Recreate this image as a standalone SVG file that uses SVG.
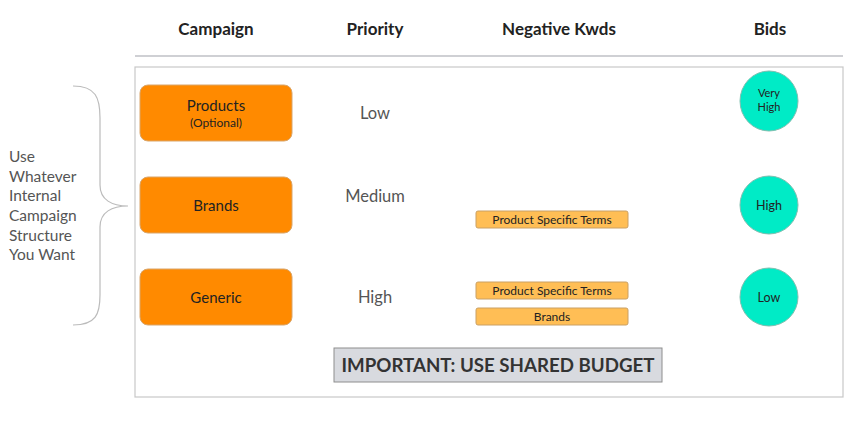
<svg xmlns="http://www.w3.org/2000/svg" width="856" height="423" viewBox="0 0 856 423">
<style>
.hdr{font-family:Lato,"Open Sans",sans-serif;font-weight:bold;font-size:17px;fill:#222;text-anchor:middle}
.camp{fill:#FF8A00;stroke:#d9a56a;stroke-width:1}
.ct{font-family:Lato,"Open Sans",sans-serif;font-size:15px;fill:#222;text-anchor:middle}
.pr{font-family:Lato,"Open Sans",sans-serif;font-size:16.5px;fill:#555;text-anchor:middle}
.neg{fill:#FFBE55;stroke:#caa064;stroke-width:1}
.nt{font-family:Lato,"Open Sans",sans-serif;font-size:12px;fill:#222;text-anchor:middle}
.bid{fill:#00EBC6;stroke:#7fbfb0;stroke-width:1}
.bt{font-family:Lato,"Open Sans",sans-serif;font-size:12.5px;fill:#222;text-anchor:middle}
.side{font-family:Lato,"Open Sans",sans-serif;font-size:15.5px;fill:#555}
</style>
<rect width="856" height="423" fill="#fff"/>
<g id="headers">
<text class="hdr" x="216" y="35">Campaign</text>
<text class="hdr" x="375" y="35">Priority</text>
<text class="hdr" x="559" y="35">Negative Kwds</text>
<text class="hdr" x="770" y="35">Bids</text>
</g>
<g id="connectors">
<line x1="135" y1="56" x2="843" y2="56" stroke="#cfd0d4" stroke-width="2"/>
<path d="M73,86 C96,86 100,98 100,118 L100,185 C100,200 112,206 128,206 C112,206 100,212 100,227 L100,295 C100,314 96,325 73,325" fill="none" stroke="#bbb" stroke-width="1.2"/>
</g>
<g id="frame"><rect x="135" y="67" width="708" height="330" fill="#fff" stroke="#c8c8c8" stroke-width="1.2"/></g>
<g id="side-label">
<text class="side" x="9" y="162">Use</text>
<text class="side" x="9" y="182">Whatever</text>
<text class="side" x="9" y="201">Internal</text>
<text class="side" x="9" y="221">Campaign</text>
<text class="side" x="9" y="241">Structure</text>
<text class="side" x="9" y="260">You Want</text>
</g>
<g id="camp-products"><rect class="camp" x="140" y="85" width="152" height="56" rx="8"/><text class="ct" x="216" y="111">Products</text><text class="ct" x="216" y="127" style="font-size:12px">(Optional)</text></g>
<g id="camp-brands"><rect class="camp" x="140" y="177" width="152" height="56" rx="8"/><text class="ct" x="216" y="211">Brands</text></g>
<g id="camp-generic"><rect class="camp" x="140" y="269" width="152" height="56" rx="8"/><text class="ct" x="216" y="303">Generic</text></g>
<g id="pri-low"><text class="pr" x="375" y="119">Low</text></g>
<g id="pri-medium"><text class="pr" x="375" y="202">Medium</text></g>
<g id="pri-high"><text class="pr" x="375" y="303">High</text></g>
<g id="neg-1"><rect class="neg" x="476" y="211" width="152" height="17" rx="2"/><text class="nt" x="552" y="224">Product Specific Terms</text></g>
<g id="neg-2"><rect class="neg" x="476" y="282" width="152" height="17" rx="2"/><text class="nt" x="552" y="295">Product Specific Terms</text></g>
<g id="neg-3"><rect class="neg" x="476" y="308" width="152" height="17" rx="2"/><text class="nt" x="552" y="321">Brands</text></g>
<g id="bid-veryhigh"><ellipse class="bid" cx="769" cy="101" rx="29" ry="30"/><text class="bt" x="769" y="97" style="font-size:11px">Very</text><text class="bt" x="769" y="111" style="font-size:11px">High</text></g>
<g id="bid-high"><circle class="bid" cx="769" cy="205" r="29"/><text class="bt" x="769" y="210">High</text></g>
<g id="bid-low"><circle class="bid" cx="769" cy="297" r="29"/><text class="bt" x="769" y="302">Low</text></g>
<g id="budget"><rect x="334" y="348" width="328" height="34" fill="#d8dadf" stroke="#8e8e8e" stroke-width="1"/><text x="498" y="372" style="font-family:Lato,'Open Sans',sans-serif;font-weight:bold;font-size:18.7px;fill:#333;text-anchor:middle">IMPORTANT: USE SHARED BUDGET</text></g>
</svg>
